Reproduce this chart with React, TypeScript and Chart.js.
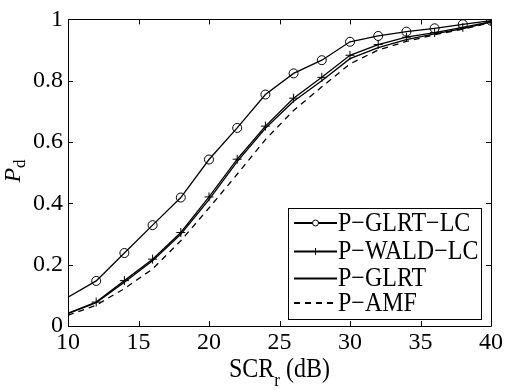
import React, { useEffect, useRef } from "react";
import { Chart, registerables } from "chart.js";

Chart.register(...registerables);

const snr = [10, 12, 14, 16, 18, 20, 22, 24, 26, 28, 30, 32, 34, 36, 38, 40];
const glrtLC = [0.094, 0.147, 0.238, 0.329, 0.419, 0.543, 0.646, 0.755, 0.824, 0.867, 0.927, 0.946, 0.96, 0.971, 0.984, 0.996];
const waldLC = [0.042, 0.078, 0.148, 0.218, 0.305, 0.421, 0.544, 0.652, 0.743, 0.811, 0.883, 0.918, 0.942, 0.957, 0.974, 0.993];
const glrt = [0.04, 0.076, 0.143, 0.213, 0.299, 0.412, 0.536, 0.645, 0.733, 0.8, 0.872, 0.908, 0.934, 0.953, 0.97, 0.991];
const amf = [0.035, 0.068, 0.122, 0.186, 0.278, 0.385, 0.495, 0.608, 0.703, 0.78, 0.855, 0.9, 0.928, 0.95, 0.968, 0.99];

const labels = ["P\u2212GLRT\u2212LC", "P\u2212WALD\u2212LC", "P\u2212GLRT", "P\u2212AMF"];
const xTicks = [10, 15, 20, 25, 30, 35, 40];
const yTicks = [0, 0.2, 0.4, 0.6, 0.8, 1];

const SERIF = "'Liberation Serif', 'DejaVu Serif', 'Times New Roman', serif";

const toPts = (ys: number[]) => snr.map((x, i) => ({ x, y: ys[i] }));
const radii = (r: number) => snr.map((_, i) => (i === 0 ? 0 : r));

const SY = 1.1;

function stretchedText(ctx: CanvasRenderingContext2D, text: string, x: number, y: number) {
  ctx.save();
  ctx.translate(x, y);
  ctx.scale(1, SY);
  ctx.fillText(text, 0, 0);
  ctx.restore();
}

const framePlugin = {
  id: "frame",
  afterDraw(chart: any) {
    const { ctx, chartArea: ca, scales } = chart;
    ctx.save();
    ctx.strokeStyle = "#000";
    ctx.lineWidth = 1;
    ctx.beginPath();
    ctx.rect(Math.round(ca.left) + 0.5, Math.round(ca.top) + 0.5, Math.round(ca.right - ca.left), Math.round(ca.bottom - ca.top));
    ctx.stroke();
    const tl = 5;
    ctx.beginPath();
    xTicks.forEach((v) => {
      const px = Math.round(scales.x.getPixelForValue(v)) + 0.5;
      ctx.moveTo(px, ca.bottom);
      ctx.lineTo(px, ca.bottom - tl);
      ctx.moveTo(px, ca.top);
      ctx.lineTo(px, ca.top + tl);
    });
    yTicks.forEach((v) => {
      const py = Math.round(scales.y.getPixelForValue(v)) + 0.5;
      ctx.moveTo(ca.left, py);
      ctx.lineTo(ca.left + tl, py);
      ctx.moveTo(ca.right, py);
      ctx.lineTo(ca.right - tl, py);
    });
    ctx.stroke();

    // Legend
    const bx = 288.5, by = 208.5, bw = 193, bh = 111;
    ctx.fillStyle = "#fff";
    ctx.fillRect(bx, by, bw, bh);
    ctx.strokeRect(bx, by, bw, bh);
    const rowY = [223, 251.5, 278.5, 303];
    ctx.font = `24px ${SERIF}`;
    ctx.textBaseline = "middle";
    ctx.fillStyle = "#000";
    rowY.forEach((y, i) => {
      ctx.save();
      ctx.lineWidth = 1.8;
      if (i === 3) ctx.setLineDash([6, 5]);
      ctx.beginPath();
      ctx.moveTo(294, y);
      ctx.lineTo(337, y);
      ctx.stroke();
      ctx.setLineDash([]);
      ctx.lineWidth = 1;
      if (i === 0) {
        ctx.fillStyle = "#fff";
        ctx.beginPath();
        ctx.arc(315.5, y, 3, 0, Math.PI * 2);
        ctx.fill();
        ctx.stroke();
      } else if (i === 1) {
        ctx.beginPath();
        ctx.moveTo(315.5, y - 3.5);
        ctx.lineTo(315.5, y + 3.5);
        ctx.stroke();
      }
      ctx.restore();
      stretchedText(ctx, labels[i], 338, y + 1);
    });

    // X title
    const cx = (ca.left + ca.right) / 2;
    const base = 377;
    ctx.textBaseline = "alphabetic";
    ctx.font = `24px ${SERIF}`;
    const w1 = ctx.measureText("SCR").width;
    const w3 = ctx.measureText(" (dB)").width;
    ctx.font = `17px ${SERIF}`;
    const w2 = ctx.measureText("r").width;
    const sx = cx - (w1 + w2 + w3) / 2;
    ctx.font = `24px ${SERIF}`;
    stretchedText(ctx, "SCR", sx, base);
    ctx.font = `17px ${SERIF}`;
    stretchedText(ctx, "r", sx + w1, base + 9);
    ctx.font = `24px ${SERIF}`;
    stretchedText(ctx, " (dB)", sx + w1 + w2, base);

    // Y title
    ctx.save();
    ctx.translate(20, 171);
    ctx.rotate(-Math.PI / 2);
    ctx.font = `italic 24px ${SERIF}`;
    const pw = ctx.measureText("P").width;
    ctx.font = `17px ${SERIF}`;
    const dw = ctx.measureText("d").width;
    const start = -(pw + dw) / 2;
    ctx.font = `italic 24px ${SERIF}`;
    ctx.fillText("P", start, 0);
    ctx.font = `17px ${SERIF}`;
    ctx.fillText("d", start + pw, 5);
    ctx.restore();

    ctx.restore();
  },
};

export default function App() {
  const ref = useRef<HTMLCanvasElement | null>(null);
  useEffect(() => {
    if (!ref.current) return;
    const common = { borderColor: "#000", borderWidth: 1.3, fill: false, tension: 0, pointBorderColor: "#000", pointBackgroundColor: "rgba(0,0,0,0)" };
    const chart = new Chart(ref.current, {
      type: "line",
      data: {
        datasets: [
          { ...common, label: labels[0], data: toPts(glrtLC), pointStyle: "circle", pointRadius: radii(4.5), pointBorderWidth: 1 },
          { ...common, label: labels[1], data: toPts(waldLC), pointStyle: "cross", pointRadius: radii(4.5), pointBorderWidth: 1 },
          { ...common, label: labels[2], data: toPts(glrt), pointRadius: 0 },
          { ...common, label: labels[3], data: toPts(amf), pointRadius: 0, borderDash: [6, 5] },
        ],
      },
      options: {
        animation: false,
        responsive: false,
        devicePixelRatio: 1,
        layout: { padding: { left: 0, top: 15, right: 13, bottom: 0 } },
        plugins: { legend: { display: false }, tooltip: { enabled: false } },
        scales: {
          x: {
            type: "linear",
            min: 10,
            max: 40,
            grid: { display: false, drawTicks: false },
            border: { display: false },
            afterFit: (s: any) => { s.height = 64; },
            afterBuildTicks: (s: any) => { s.ticks = xTicks.map((v) => ({ value: v })); },
            ticks: { color: "#000", font: { family: SERIF, size: 24 }, padding: 2, maxRotation: 0, autoSkip: false },
          },
          y: {
            type: "linear",
            min: 0,
            max: 1,
            grid: { display: false, drawTicks: false },
            border: { display: false },
            afterFit: (s: any) => { s.width = 68; },
            afterBuildTicks: (s: any) => { s.ticks = yTicks.map((v) => ({ value: v })); },
            ticks: {
              color: "#000",
              font: { family: SERIF, size: 24 },
              padding: 5,
              autoSkip: false,
              callback: (v: any) => String(Number(Number(v).toFixed(1))),
            },
          },
        },
      },
      plugins: [framePlugin],
    } as any);
    return () => chart.destroy();
  }, []);
  return (
    <canvas ref={ref} width={505} height={390} style={{ position: "absolute", left: 0, top: 0, width: 505, height: 390 }} />
  );
}
